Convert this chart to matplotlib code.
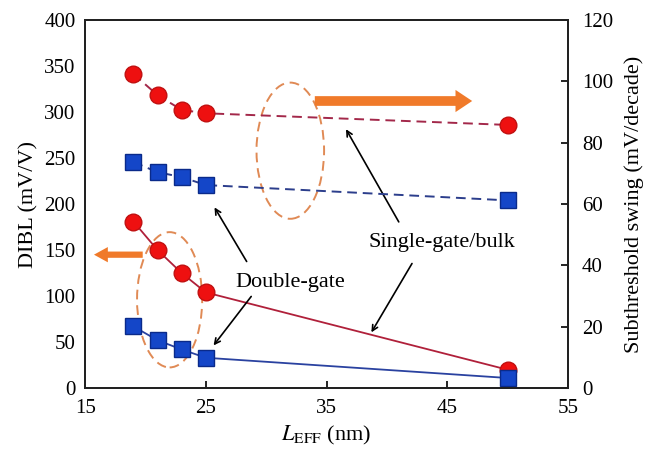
import matplotlib as mpl
import matplotlib.pyplot as plt
from matplotlib.patches import Ellipse

mpl.rcParams['font.family'] = ['Liberation Serif', 'DejaVu Serif']
mpl.rcParams['mathtext.fontset'] = 'stix'

# effective channel length (nm)
l_eff = [19, 21, 23, 25, 50]

# DIBL (mV/V), left axis
dibl_single = [181, 150, 125, 104, 20]
dibl_double = [67, 52, 42, 33, 11]

# subthreshold swing (mV/decade), right axis
ss_single = [102.4, 95.5, 90.7, 89.6, 85.8]
ss_double = [73.7, 70.4, 68.8, 66.2, 61.2]

x_ticks = [15, 25, 35, 45, 55]
dibl_ticks = [0, 50, 100, 150, 200, 250, 300, 350, 400]
ss_ticks = [0, 20, 40, 60, 80, 100, 120]

red_line = '#b0203a'
blue_line = '#2a42a0'
red_dash = '#a3284a'
blue_dash = '#2c3e8c'
red_fill = '#ee1010'
blue_fill = '#1446c8'
orange = '#f07a2a'

fig, ax = plt.subplots(figsize=(6.55, 4.55), dpi=100)
fig.subplots_adjust(left=0.13, right=0.867, top=0.956, bottom=0.147)
ax2 = ax.twinx()

ax.plot(l_eff, dibl_single, '-', color=red_line, lw=1.3, marker='o', ms=12,
        mfc=red_fill, mec='#c01010', mew=1, zorder=3)
ax.plot(l_eff, dibl_double, '-', color=blue_line, lw=1.3, marker='s', ms=11,
        mfc=blue_fill, mec='#0a2a8a', mew=1, zorder=3)
ax2.plot(l_eff, ss_single, '--', color=red_dash, lw=1.4, dashes=(5, 3), marker='o', ms=12,
         mfc=red_fill, mec='#c01010', mew=1, zorder=3)
ax2.plot(l_eff, ss_double, '--', color=blue_dash, lw=1.4, dashes=(5, 3), marker='s', ms=11,
         mfc=blue_fill, mec='#0a2a8a', mew=1, zorder=3)

ax.set_xlim(15, 55)
ax.set_ylim(0, 400)
ax2.set_ylim(0, 120)
ax.set_xticks(x_ticks)
ax.set_yticks(dibl_ticks)
ax2.set_yticks(ss_ticks)

ax.tick_params(axis='y', length=0, labelsize=15, pad=7)
ax.tick_params(axis='x', direction='in', length=5, width=1.2, labelsize=15, pad=8)
ax2.tick_params(axis='y', direction='in', length=5, width=1.2, labelsize=15, pad=10)
for a in (ax, ax2):
    for s in a.spines.values():
        s.set_linewidth(1.4)
        s.set_color('#222222')

ax.set_xlabel(r'$L_{\mathrm{EFF}}$ (nm)', fontsize=16, labelpad=4)
ax.set_ylabel('DIBL (mV/V)', fontsize=16, labelpad=4)
ax2.set_ylabel('Subthreshold swing (mV/decade)', fontsize=16, labelpad=8)

# dashed ellipses
ax.add_patch(Ellipse((32.0, 258), 5.6, 148, fill=False, ls=(0, (5, 3)),
                     ec='#e08a55', lw=1.4))
ax.add_patch(Ellipse((22.0, 96), 5.4, 147, fill=False, ls=(0, (5, 3)),
                     ec='#e08a55', lw=1.4))

# thick orange arrows
ax.annotate('', xy=(47.3, 312), xytext=(33.8, 312),
            arrowprops=dict(arrowstyle='simple,head_length=1.2,head_width=1.6,tail_width=0.7',
                            color=orange, lw=0))
ax.annotate('', xy=(15.5, 145), xytext=(20.0, 145),
            arrowprops=dict(arrowstyle='simple,head_length=1.0,head_width=1.1,tail_width=0.45',
                            color=orange, lw=0))

# labels with pointers
ax.text(32.0, 115, 'Double-gate', fontsize=16, ha='center', va='center')
ax.annotate('', xy=(25.6, 199), xytext=(28.5, 135),
            arrowprops=dict(arrowstyle='->', color='black', lw=1.2))
ax.annotate('', xy=(25.5, 44), xytext=(28.9, 102),
            arrowprops=dict(arrowstyle='->', color='black', lw=1.2))

ax.text(44.6, 158, 'Single-gate/bulk', fontsize=16, ha='center', va='center')
ax.annotate('', xy=(36.5, 284), xytext=(41.1, 178),
            arrowprops=dict(arrowstyle='->', color='black', lw=1.2))
ax.annotate('', xy=(38.6, 58), xytext=(42.2, 138),
            arrowprops=dict(arrowstyle='->', color='black', lw=1.2))

fig.savefig('out.png', dpi=100)
